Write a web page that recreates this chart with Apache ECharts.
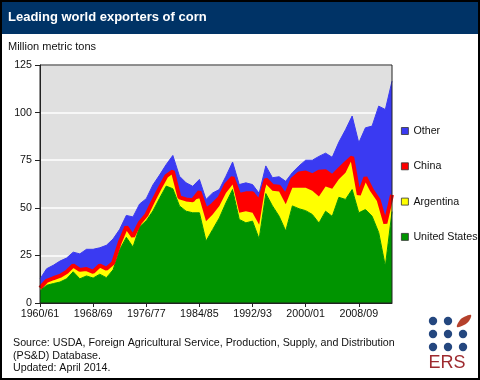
<!DOCTYPE html>
<html><head><meta charset="utf-8">
<script src="https://cdn.jsdelivr.net/npm/echarts@6/dist/echarts.min.js"></script>
<style>html,body{margin:0;padding:0;background:#fff}#c{width:480px;height:380px}</style>
</head><body><div id="c"></div>
<script>
const years = ["1960/61","1961/62","1962/63","1963/64","1964/65","1965/66","1966/67","1967/68","1968/69","1969/70",
"1970/71","1971/72","1972/73","1973/74","1974/75","1975/76","1976/77","1977/78","1978/79","1979/80",
"1980/81","1981/82","1982/83","1983/84","1984/85","1985/86","1986/87","1987/88","1988/89","1989/90",
"1990/91","1991/92","1992/93","1993/94","1994/95","1995/96","1996/97","1997/98","1998/99","1999/00",
"2000/01","2001/02","2002/03","2003/04","2004/05","2005/06","2006/07","2007/08","2008/09","2009/10",
"2010/11","2011/12","2012/13","2013/14"];
const unitedStates = [6.6,9.3,10.2,11.0,12.7,16.4,12.7,14.2,13.1,15.1,
13.3,17.4,28.0,34.5,29.4,40.0,43.2,48.3,55.0,61.4,
60.0,51.0,48.2,47.4,47.4,32.5,38.6,44.7,52.6,59.6,
43.9,42.1,43.0,33.6,57.5,51.0,45.6,37.8,51.0,49.5,
48.5,46.5,42.0,48.2,45.5,55.5,54.4,59.6,47.4,49.1,
45.6,37.0,19.3,48.0];
const argentina = [1.4,2.3,2.8,3.2,3.6,3.3,4.7,3.6,3.3,4.6,
4.7,3.6,3.7,5.5,5.6,2.0,3.0,5.1,5.2,5.2,
9.2,4.5,6.2,6.6,7.6,10.4,7.9,6.2,5.2,2.6,
3.5,6.1,4.4,7.5,5.0,8.0,13.0,14.0,9.5,11.0,
12.0,12.5,14.0,13.0,14.5,9.5,14.0,16.0,9.0,16.5,
13.5,17.0,22.5,8.8];
const china = [0,0,0,0,0,0,0,0,0,0,
0,0,0,0,0,0,0,0,0,0,
0,0,0,0,3.5,6.0,5.1,4.1,4.3,3.7,
9.4,9.4,10.2,12.0,2.5,2.5,2.5,4.5,4.5,7.5,
8.0,8.0,13.0,8.0,6.5,5.0,5.0,1.0,0.5,0.3,
0,0,0,0];
const other = [4.6,6.4,6.8,7.8,7.3,7.0,8.4,10.4,11.8,9.3,
12.3,12.6,7.0,6.0,10.2,10.0,8.6,8.6,7.0,6.1,
8.3,11.1,8.7,7.3,6.4,5.5,6.2,4.6,4.5,8.1,
5.4,5.5,4.6,4.5,7.0,4.3,5.2,7.6,3.5,4.0,
6.5,8.0,8.0,9.5,10.0,14.5,17.6,21.6,27.2,26.1,
33.8,49.4,59.8,59.7];
const yMin = 0, yMax = 125, yStep = 25;
const legendOrder = ["Other","China","Argentina","United States"];
const sourceLines = ["Source: USDA, Foreign Agricultural Service, Production, Supply, and Distribution",
"(PS&D) Database.","Updated: April 2014."];

const FONT = '"Liberation Sans", Arial, sans-serif';
function areaSeries(name, data, color, z, lw){
  return {name:name, type:'line', stack:'total', data:data, symbol:'none', showSymbol:false,
    z:z, itemStyle:{color:color}, lineStyle:{width:lw, color:color},
    areaStyle:{color:color, opacity:1}, emphasis:{disabled:true}, silent:true};
}
const chart = echarts.init(document.getElementById('c'), null, {renderer:'canvas'});
const graphics = [
  {type:'rect', shape:{x:0,y:0,width:480,height:34}, style:{fill:'#003366'}, z:1},
  {type:'text', x:8, y:17, style:{text:'Leading world exporters of corn', fill:'#fff', font:'bold 13px '+FONT, verticalAlign:'middle'}, z:2},
  {type:'text', x:8, y:47, style:{text:'Million metric tons', fill:'#111', font:'11px '+FONT, verticalAlign:'middle'}, z:2},
  {type:'rect', shape:{x:40,y:65,width:352,height:238}, style:{fill:'none', stroke:'#222', lineWidth:1}, z:10}
];
sourceLines.forEach(function(t,k){
  graphics.push({type:'text', x:13, y:343+k*12.6, style:{text:t, fill:'#111', font:'10.7px '+FONT, verticalAlign:'middle'}, z:2});
});
const dotC = '#24477f';
[[433,321],[448,321],[433,334],[448,334],[463,334],[433,347],[448,347],[463,347]].forEach(function(p){
  graphics.push({type:'circle', shape:{cx:p[0],cy:p[1],r:4.2}, style:{fill:dotC}, z:2});
});
graphics.push({type:'polygon', shape:{points:[[457,327],[460,320],[465,316.5],[471,315],[469,321],[464,325]], smooth:0.4}, style:{fill:'#b5412c'}, z:2});
graphics.push({type:'text', x:447, y:363, style:{text:'ERS', fill:'#9e2a2f', font:'18px '+FONT, align:'center', verticalAlign:'middle'}, z:2});
graphics.push({type:'rect', shape:{x:0,y:0,width:480,height:380}, style:{fill:'none', stroke:'#000', lineWidth:4}, z:20});

chart.setOption({
  animation:false,
  backgroundColor:'#fff',
  textStyle:{fontFamily:FONT},
  grid:{left:40, top:65, width:352, height:238, show:true, backgroundColor:'#e0e0e0', borderWidth:0},
  xAxis:{type:'category', data:years, boundaryGap:false,
    axisLine:{lineStyle:{color:'#222', width:1}},
    axisTick:{show:true, interval:7, length:4, lineStyle:{color:'#222'}},
    axisLabel:{interval:7, color:'#111', fontSize:10.7, margin:6, fontFamily:FONT},
    splitLine:{show:false}},
  yAxis:{type:'value', min:yMin, max:yMax, interval:yStep,
    axisLine:{show:true, lineStyle:{color:'#222'}},
    axisTick:{show:true, length:5, lineStyle:{color:'#222'}},
    axisLabel:{color:'#111', fontSize:10.7, margin:8, fontFamily:FONT},
    splitLine:{show:true, lineStyle:{color:'#ffffff', width:1.5}}},
  legend:{orient:'vertical', left:401, top:125, padding:0, itemWidth:7, itemHeight:7, itemGap:23.3,
    icon:'rect', selectedMode:false,
    textStyle:{fontSize:10.7, color:'#111', lineHeight:12, fontFamily:FONT},
    itemStyle:{borderColor:'#333', borderWidth:0.8},
    data:legendOrder},
  graphic:graphics,
  series:[
    areaSeries('United States', unitedStates, '#009400', 2, 1),
    areaSeries('Argentina', argentina, '#ffff00', 2, 1),
    areaSeries('China', china, '#ff0000', 4, 4),
    areaSeries('Other', other, '#3a3af2', 2, 1)
  ]
});
</script></body></html>
